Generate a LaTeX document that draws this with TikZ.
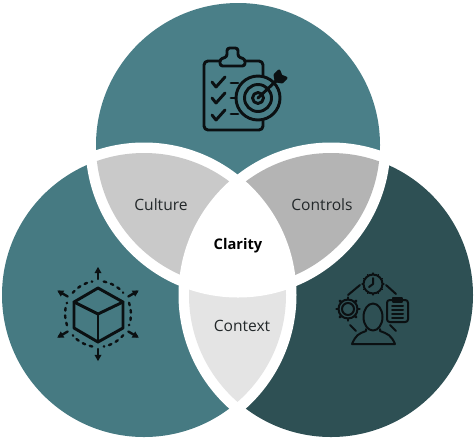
\documentclass[tikz,border=0pt]{standalone}
\usepackage{fontspec}
\setmainfont{Open Sans}
\definecolor{tealtop}{HTML}{4A7F88}
\definecolor{teallft}{HTML}{467A82}
\definecolor{tealrgt}{HTML}{2E5054}
\definecolor{grayculture}{HTML}{C9C9C9}
\definecolor{graycontrols}{HTML}{B4B4B4}
\definecolor{graycontext}{HTML}{E4E4E4}
\definecolor{inkblack}{HTML}{0B1012}
\tikzset{
	label/.style = {font = \fontsize{11.7}{14}\selectfont, text = inkblack!90},
	iconbold/.style = {draw = inkblack, line width = 2.2pt, line join = round, line cap = round},
	iconthin/.style = {draw = inkblack, line width = 1.5pt, line join = round, line cap = round}
}
\begin{document}
\begin{tikzpicture} [x = 0.75pt, y = -0.75pt]
	\useasboundingbox (0,0) rectangle (474,437);
	\coordinate (topc) at (238,145);
	\coordinate (lftc) at (144,295);
	\coordinate (rgtc) at (331,295);
	% discs
	\fill [tealtop] (topc) circle [radius = 142];
	\fill [teallft] (lftc) circle [radius = 142];
	\fill [tealrgt] (rgtc) circle [radius = 142];
	% white rings
	\foreach \a/\b in {topc/lftc, lftc/topc, topc/rgtc, rgtc/topc, lftc/rgtc, rgtc/lftc} {
		\begin{scope}
			\clip (\a) circle [radius = 144];
			\fill [white] (\b) circle [radius = 152.5];
		\end{scope}
	}
	% overlaps
	\foreach \a/\b/\col in {topc/lftc/grayculture, topc/rgtc/graycontrols, lftc/rgtc/graycontext} {
		\begin{scope}
			\clip (\a) circle [radius = 142];
			\fill [\col] (\b) circle [radius = 142];
		\end{scope}
	}
	% centre
	\foreach \a/\b/\c in {topc/lftc/rgtc, topc/rgtc/lftc, lftc/rgtc/topc} {
		\begin{scope}
			\clip (\a) circle [radius = 144];
			\clip (\b) circle [radius = 144];
			\fill [white] (\c) circle [radius = 152.5];
		\end{scope}
	}
	\node [label] (culture) at (161,205) {Culture};
	\node [label] (controls) at (322,205) {Controls};
	\node [label, font = \fontsize{11}{13}\selectfont\bfseries, text = black] (clarity) at (238,246) {Clarity};
	\node [label] (context) at (242,326) {Context};
	% clipboard and target
	\draw [iconbold, rounded corners = 3pt] (220,61) -- (204,61) -- (204,130) -- (263,130) -- (263,61) -- (245,61);
	\draw [iconbold, fill = tealtop, rounded corners = 2pt] (220,66) -- (245,66) -- (245,59) -- (238,57) -- (238,48) -- (227,48) -- (227,57) -- (220,59) -- cycle;
	\foreach \y in {82,98,115} {
		\draw [iconbold] (212,\y) -- (216,\y+5) -- (225,\y-5);
	}
	\draw [iconbold] (231,83) -- (238,83);
	\draw [iconbold] (231,98) -- (235,98);
	\draw [iconbold] (231,114) -- (238,114);
	\fill [tealtop] (258,98) circle [radius = 23];
	\draw [iconbold] (258,98) circle [radius = 22];
	\draw [iconbold] (258,98) circle [radius = 13.5];
	\draw [iconbold] (258,98) circle [radius = 5.5];
	\draw [iconbold] (258,98) -- (276,81);
	\draw [iconbold, fill = inkblack] (276,81) -- (275,75) -- (279,71) -- (281,76) -- (286,78) -- (282,82) -- cycle;
	% cube
	\draw [iconbold] (98,288) -- (123,302) -- (123,328) -- (98,342) -- (74,328) -- (74,302) -- cycle;
	\draw [iconbold] (74,302) -- (98,314) -- (123,302);
	\draw [iconbold] (98,314) -- (98,342);
	\foreach \ang in {-90,-30,30,90,150,210} {
		\draw [iconbold, line width = 1.8pt] (98,314) ++(\ang:35) -- ++(\ang:10);
		\fill [inkblack] (98,314) ++(\ang:47) -- ++(\ang-150:7) -- ++(\ang+90:7) -- cycle;
		\draw [iconbold, line width = 1.8pt, dash pattern = on 2pt off 3.6pt] (98,314) ++(\ang+10:33) arc [start angle = \ang+10, end angle = \ang+50, radius = 33];
	}
	% person, clock, gear, sheet
	\draw [iconthin] (373,284) circle [radius = 9.5];
	\draw [iconthin] (373,278) -- (373,284) -- (369,287);
	\foreach \ang in {0,30,...,330} {
		\draw [iconthin, line width = 0.8pt] (373,284) ++(\ang:9.5) -- ++(\ang:1.5);
	}
	\draw [iconthin] (348,309) circle [radius = 6];
	\draw [iconthin] (348,309) circle [radius = 9.5];
	\foreach \ang in {0,45,...,315} {
		\draw [iconthin, line width = 2pt] (348,309) ++(\ang:9.5) -- ++(\ang:2);
	}
	\draw [iconthin, rounded corners = 2pt] (387,300) rectangle (408,322);
	\draw [iconthin] (393,298) rectangle (402,302);
	\foreach \y in {306,310,314,318} {
		\draw [iconthin] (392,\y) -- (403,\y);
	}
	\draw [iconthin] (373,317) ellipse [x radius = 9.5, y radius = 13.5];
	\draw [iconthin] (366,329) -- (366,331) .. controls (358,334) and (356,335) .. (352,344) -- (395,344) .. controls (391,335) and (388,334) .. (380,331) -- (380,329);
	\draw [iconthin] (348,295) -- (360,285);
	\draw [iconthin] (386,285) -- (396,294);
	\draw [iconthin] (350,325) -- (356,331);
	\draw [iconthin] (396,331) -- (390,325);
\end{tikzpicture}
\end{document}
